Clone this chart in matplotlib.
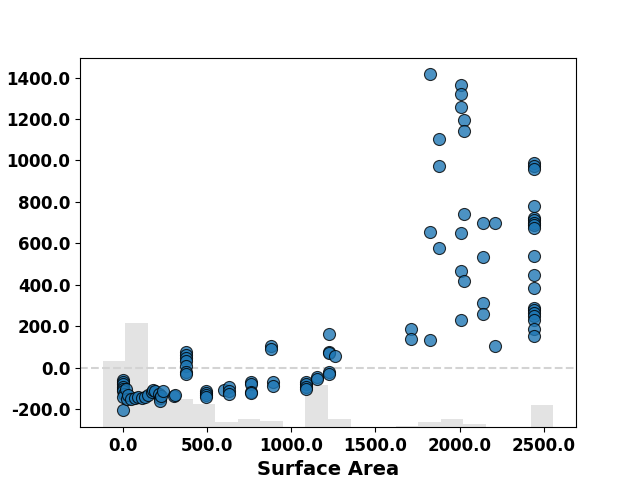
import numpy as np
import matplotlib
matplotlib.use('Agg')
import matplotlib.pyplot as plt
from matplotlib.ticker import FormatStrFormatter

# scatter points (surface area, effect)
area = [0, 0, 0, 0, 0, 0, 5, 0, 0,
        20, 25, 30, 50, 70, 90, 110, 130, 150, 170, 180, 190, 215, 220, 220, 225, 240, 300, 310,
        375, 375, 375, 375, 375, 375, 375,
        490, 490, 490, 490,
        600, 630, 630, 630,
        760, 760, 760, 760,
        880, 880, 890, 890,
        1090, 1090, 1090, 1090,
        1150, 1150,
        1225, 1225, 1225, 1225, 1225, 1262,
        1714, 1714, 1823, 1823, 1823,
        1877, 1877, 1877,
        2006, 2006, 2006, 2006, 2006, 2006,
        2026, 2026, 2026, 2026,
        2139, 2139, 2139, 2139, 2210, 2210,
        2440, 2440, 2440, 2440, 2440, 2440, 2440, 2440, 2440, 2440,
        2440, 2440, 2440, 2440, 2440, 2440, 2440, 2440, 2440]
effect = [-60, -70, -80, -90, -100, -110, -125, -140, -205,
          -100, -150, -130, -150, -145, -140, -145, -140, -130, -115, -105, -110, -125, -145, -160, -135, -110, -135, -130,
          75, 60, 50, 35, 10, -20, -30,
          -110, -120, -130, -140,
          -105, -90, -110, -125,
          -70, -80, -115, -120,
          105, 90, -70, -85,
          -70, -80, -90, -100,
          -45, -55,
          165, 75, 70, -20, -30, 58,
          188, 140, 1415, 655, 135,
          1104, 974, 579,
          1362, 1322, 1260, 650, 468, 232,
          1193, 1144, 742, 420,
          699, 536, 311, 259, 699, 105,
          990, 975, 960, 780, 725, 715, 700, 690, 675, 540,
          447, 385, 291, 280, 265, 250, 230, 188, 155]

# background histogram: bin edges and bar heights (above the bottom of the axes)
bin_edges = [-122, 12, 146, 280, 414, 548, 682, 816, 950, 1084, 1218,
             1352, 1486, 1620, 1754, 1888, 2022, 2156, 2290, 2424, 2558]
bin_heights = [319, 504, 135, 135, 114, 26, 39, 29, 0, 203, 39,
               0, 0, 7, 25, 39, 15, 3, 0, 107]

fig, ax = plt.subplots(figsize=(6.4, 4.8), dpi=100)
ax.scatter(area, effect, s=75, color='#1f77b4', alpha=0.8,
           edgecolors='black', linewidths=0.8, zorder=3)
ylo, yhi = ax.get_ylim()

edges = np.array(bin_edges)
ax.bar(edges[:-1], bin_heights, width=np.diff(edges), align='edge',
       bottom=ylo, color='#e3e3e3', zorder=1)
ax.axhline(0, color='#d3d3d3', linestyle='--', linewidth=1.5, zorder=2)
ax.set_ylim(ylo, yhi)

ax.xaxis.set_major_formatter(FormatStrFormatter('%.1f'))
ax.yaxis.set_major_formatter(FormatStrFormatter('%.1f'))
for lab in ax.get_xticklabels() + ax.get_yticklabels():
    lab.set_fontweight('bold')
    lab.set_fontsize(12)
ax.set_xlabel('Surface Area', fontsize=14, fontweight='bold')

plt.savefig('out.png')
